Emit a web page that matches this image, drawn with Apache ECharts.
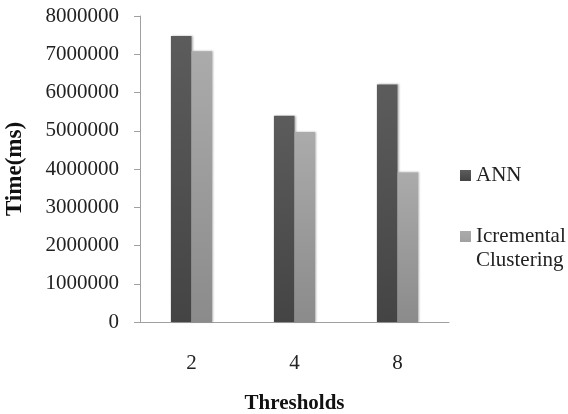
<!DOCTYPE html>
<html><head><meta charset="utf-8">
<script src="https://cdn.jsdelivr.net/npm/echarts@6/dist/echarts.min.js"></script>
<style>html,body{margin:0;padding:0;background:#fff}#c{width:568px;height:414px}</style>
</head><body><div id="c"></div>
<script>
const categories = ['2', '4', '8'];
const annValues = [7480000, 5390000, 6210000];
const icValues = [7080000, 4970000, 3910000];
const yTicks = [0, 1000000, 2000000, 3000000, 4000000, 5000000, 6000000, 7000000, 8000000];

const font = 'Liberation Serif';
const chart = echarts.init(document.getElementById('c'));
function grad(top, bottom) {
  return new echarts.graphic.LinearGradient(0, 0, 0, 1, [{offset: 0, color: top}, {offset: 1, color: bottom}]);
}
chart.setOption({
  animation: false,
  backgroundColor: '#fff',
  grid: {left: 140, right: 119, top: 16, bottom: 92, containLabel: false, outerBoundsMode: 'none'},
  legend: [{
    orient: 'vertical', left: 460, top: 165, padding: 0, data: ['ANN'],
    itemWidth: 11, itemHeight: 11, itemGap: 5,
    icon: 'rect',
    textStyle: {fontFamily: font, fontSize: 21, color: '#222'}
  }, {
    orient: 'vertical', left: 460, top: 224, padding: 0, data: ['Icremental Clustering'],
    itemWidth: 11, itemHeight: 34,
    icon: 'path://M0,0h11v11h-11zM0,34h0.01v-0.01z',
    formatter: function () { return 'Icremental\nClustering'; },
    textStyle: {fontFamily: font, fontSize: 21, color: '#222', lineHeight: 24}
  }],
  xAxis: {
    type: 'category', data: categories,
    name: 'Thresholds', nameLocation: 'middle', nameGap: 71,
    nameTextStyle: {fontFamily: font, fontSize: 21, fontWeight: 'bold', color: '#111'},
    axisLine: {show: true, lineStyle: {color: '#a0a0a0', width: 1}},
    axisTick: {show: false},
    axisLabel: {fontFamily: font, fontSize: 21, color: '#222', margin: 31}
  },
  yAxis: {
    type: 'value', min: 0, max: 8000000, interval: 1000000,
    name: 'Time(ms)', nameLocation: 'middle', nameGap: 113,
    nameTextStyle: {fontFamily: font, fontSize: 23, fontWeight: 'bold', color: '#111'},
    axisLine: {show: true, lineStyle: {color: '#a0a0a0', width: 1}},
    axisTick: {show: true, length: 6, lineStyle: {color: '#a0a0a0'}},
    splitLine: {show: false},
    axisLabel: {fontFamily: font, fontSize: 21, color: '#222', margin: 21,
      formatter: function (v) { return yTicks.indexOf(v) >= 0 ? String(v) : ''; }}
  },
  series: [{
    name: 'ANN', type: 'bar', data: annValues,
    barGap: '0%', barCategoryGap: '60%',
    itemStyle: {color: grad('#5c5c5c', '#444444'), shadowBlur: 2, shadowColor: 'rgba(0,0,0,0.3)', shadowOffsetX: 1}
  }, {
    name: 'Icremental Clustering', type: 'bar', data: icValues,
    barGap: '0%', barCategoryGap: '60%',
    itemStyle: {color: grad('#ababab', '#8b8b8b'), shadowBlur: 2, shadowColor: 'rgba(0,0,0,0.3)', shadowOffsetX: 1}
  }]
});
</script></body></html>
